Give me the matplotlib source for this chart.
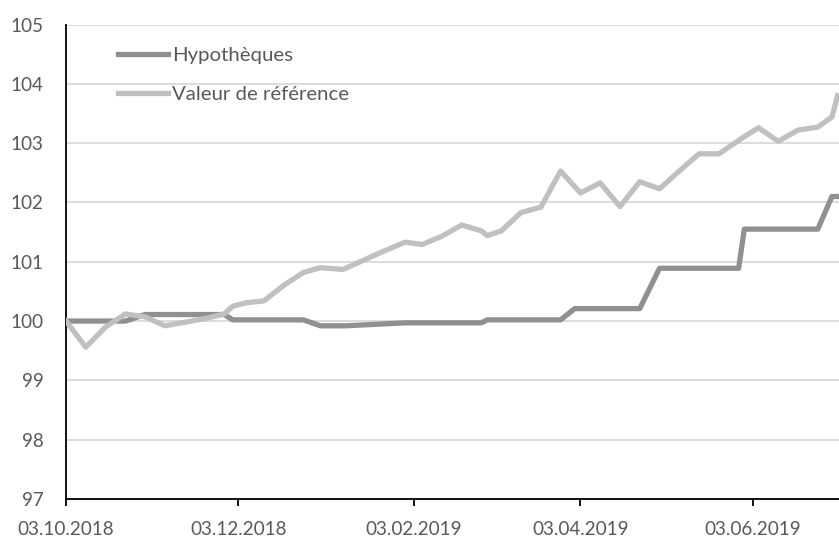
import matplotlib.pyplot as plt
import matplotlib.dates as mdates
import pandas as pd

# Valeur de référence
ref_dates = ["2018-10-03", "2018-10-10", "2018-10-17", "2018-10-24", "2018-10-31",
             "2018-11-07", "2018-11-14", "2018-11-21", "2018-11-28", "2018-12-01",
             "2018-12-06", "2018-12-12", "2018-12-19", "2018-12-26", "2019-01-01",
             "2019-01-09", "2019-01-16", "2019-01-23", "2019-01-31", "2019-02-06",
             "2019-02-13", "2019-02-20", "2019-02-27", "2019-03-01", "2019-03-06",
             "2019-03-13", "2019-03-20", "2019-03-27", "2019-04-03", "2019-04-10",
             "2019-04-17", "2019-04-24", "2019-05-01", "2019-05-08", "2019-05-15",
             "2019-05-22", "2019-05-31", "2019-06-05", "2019-06-12", "2019-06-19",
             "2019-06-26", "2019-07-01", "2019-07-03"]
ref_values = [100.0, 99.56, 99.9, 100.12, 100.07,
              99.92, 99.98, 100.04, 100.12, 100.25,
              100.31, 100.34, 100.6, 100.82, 100.9,
              100.87, 101.02, 101.17, 101.33, 101.29,
              101.43, 101.62, 101.52, 101.44, 101.52,
              101.83, 101.92, 102.53, 102.16, 102.33,
              101.93, 102.35, 102.23, 102.53, 102.82,
              102.82, 103.11, 103.26, 103.03, 103.22,
              103.27, 103.44, 103.8]

# Hypothèques
hyp_dates = ["2018-10-03", "2018-10-24", "2018-10-31", "2018-11-28", "2018-12-01",
             "2018-12-26", "2019-01-01", "2019-01-10", "2019-01-31", "2019-02-27",
             "2019-03-01", "2019-03-27", "2019-04-01", "2019-04-24", "2019-05-01",
             "2019-05-29", "2019-05-31", "2019-06-26", "2019-07-01", "2019-07-03"]
hyp_values = [100.0, 100.0, 100.11, 100.11, 100.02,
              100.02, 99.92, 99.92, 99.97, 99.97,
              100.02, 100.02, 100.21, 100.21, 100.89,
              100.89, 101.55, 101.55, 102.1, 102.1]

tick_dates = ["2018-10-03", "2018-12-03", "2019-02-03", "2019-04-03", "2019-06-03"]
y_ticks = [97, 98, 99, 100, 101, 102, 103, 104, 105]

plt.rcParams['font.family'] = ['Lato', 'DejaVu Sans']

fig = plt.figure(figsize=(8.39, 5.39), dpi=100)
ax = fig.add_axes([66 / 839, 40 / 539, 773 / 839, 474.5 / 539])

ax.plot(pd.to_datetime(hyp_dates), hyp_values, color='#909090', lw=3.8,
        solid_joinstyle='round', label='Hypothèques', zorder=3)
ax.plot(pd.to_datetime(ref_dates), ref_values, color='#c0c0c0', lw=3.8,
        solid_joinstyle='round', label='Valeur de référence', zorder=3)

ax.set_xlim(pd.Timestamp("2018-10-03"), pd.Timestamp("2019-07-03 12:00"))
ax.set_ylim(97, 105)
ax.set_yticks(y_ticks)
ax.set_xticks(pd.to_datetime(tick_dates))
ax.xaxis.set_major_formatter(mdates.DateFormatter('%d.%m.%Y'))

ax.grid(axis='y', color='#d9d9d9', lw=1.3)
ax.set_axisbelow(True)
for s in ['top', 'right']:
    ax.spines[s].set_visible(False)
ax.spines['left'].set_color('black')
ax.spines['bottom'].set_color('black')
ax.spines['left'].set_linewidth(1.3)
ax.spines['bottom'].set_linewidth(1.3)

ax.tick_params(axis='y', length=0, pad=16, labelsize=13.6, labelcolor='#595959')
ax.tick_params(axis='x', length=5, width=1.3, pad=10.5, labelsize=13.6, labelcolor='#595959')

leg = ax.legend(loc='upper left', bbox_to_anchor=(0.067, 0.953), frameon=False,
                fontsize=14.7, handlelength=2.45, handletextpad=0.2,
                labelspacing=1.05, borderpad=0, borderaxespad=0)
for t in leg.get_texts():
    t.set_color('#595959')

fig.savefig('out.png', dpi=100)
